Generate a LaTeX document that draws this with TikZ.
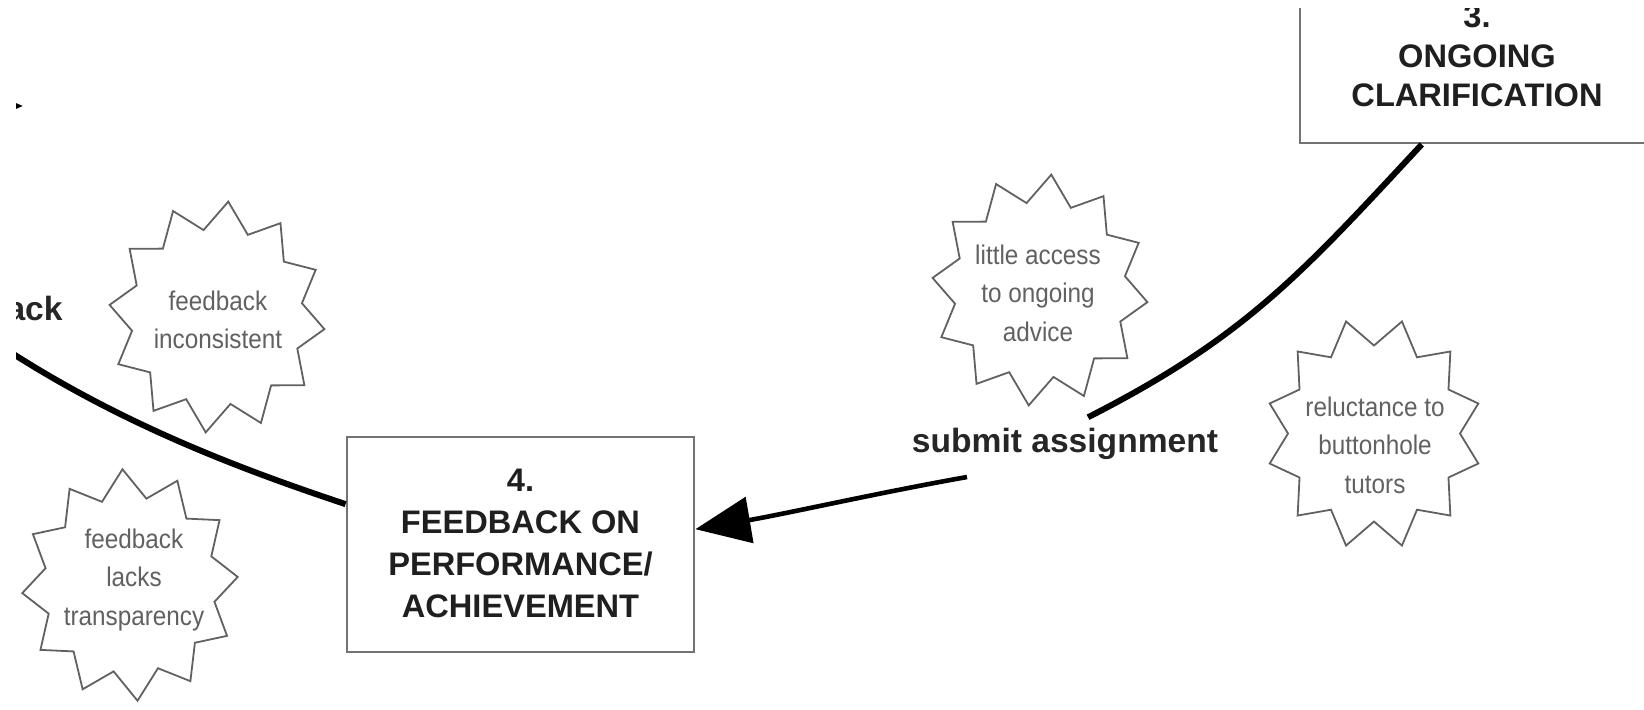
\documentclass[tikz,border=0pt]{standalone}
\usepackage{fontspec}
\setmainfont{Liberation Sans}
\newfontfamily\burstfont[FakeStretch=0.9]{Liberation Sans}
\usetikzlibrary{arrows.meta}

% twelve-point burst drawn round a label node: node, rotation, x shift, y shift
\newcommand\burstaround[4]{%
  \begin{scope}[shift={(#1.center)}, shift={(#3,#4)}]
    \draw[burstline] (#2:108 and 116)
      \foreach \k in {1,...,12} { -- ({#2+30*\k-15}:86 and 88) -- ({#2+30*\k}:108 and 116) } -- cycle;
  \end{scope}}

\begin{document}
\begin{tikzpicture}[x=0.5pt, y=-0.5pt,
  stage/.style={draw=black!55, line width=1.4pt, fill=white, align=center,
    text=black!88, inner sep=0pt},
  stagefont/.style={font=\bfseries\fontsize{16.3}{21}\selectfont},
  burstline/.style={draw=black!62, line width=0.9pt, line join=miter},
  burstlabel/.style={align=center, inner sep=0pt, text=black!62,
    font=\burstfont\fontsize{13.5}{19.25}\selectfont},
  steplabel/.style={font=\bfseries\fontsize{16.8}{20}\selectfont, text=black!85, inner sep=0pt},
  flow/.style={line width=3pt, draw=black},
  bigtip/.style={-{Triangle[length=27.5pt, width=23pt]}}
]
\useasboundingbox (0,0) rectangle (1644,709);
\fill[white] (0,0) rectangle (1644,709);
\clip (16,8) rectangle (1644,709);

% stages
\node[stage, stagefont, minimum width=173.5pt, minimum height=107.5pt] (fb) at (520.5,544.5)
  {4.\\FEEDBACK ON\\PERFORMANCE/\\ACHIEVEMENT\rule[-1pt]{0pt}{1pt}};
\node[stage, font=\bfseries\fontsize{16.3}{19.75}\selectfont, minimum width=177pt, minimum height=87pt] (oc) at (1477,56)
  {3.\\ONGOING\\CLARIFICATION};

% step labels
\node[steplabel, anchor=base] (sub) at (1065,452) {submit assignment};
\node[steplabel, anchor=base east] (ack) at (63,320) {ack};

% problem bursts
\node[burstlabel] (incons) at (218,320) {feedback\\inconsistent};
\node[burstlabel] (transp) at (134,580) {feedback\\lacks\\transparency};
\node[burstlabel] (advice) at (1038,293) {little access\\to ongoing\\advice};
\node[burstlabel] (tutors) at (1375,445) {reluctance to\\buttonhole\\tutors};
\burstaround{incons}{6}{-1}{-3}
\burstaround{transp}{-4}{-4}{5}
\burstaround{advice}{6}{2}{-3}
\burstaround{tutors}{15}{-1}{-11.5}

% connectors
\coordinate (offl) at (-30,325);
\coordinate (offtl) at (-60,106);
\coordinate (tiptl) at (23,106);
\draw[flow] (fb.167) .. controls (222,463) and (95,413) .. (offl);
\draw[flow] (oc.238) .. controls (1303,272) and (1246,337) .. ([shift={(23,-10)}]sub.north);
\draw[flow, line width=2.3pt, bigtip] ([shift={(-98,25)}]sub.base) .. controls (877,493) and (785,514) .. (fb.5);
\draw[flow, bigtip] (offtl) -- (tiptl);
\end{tikzpicture}
\end{document}
